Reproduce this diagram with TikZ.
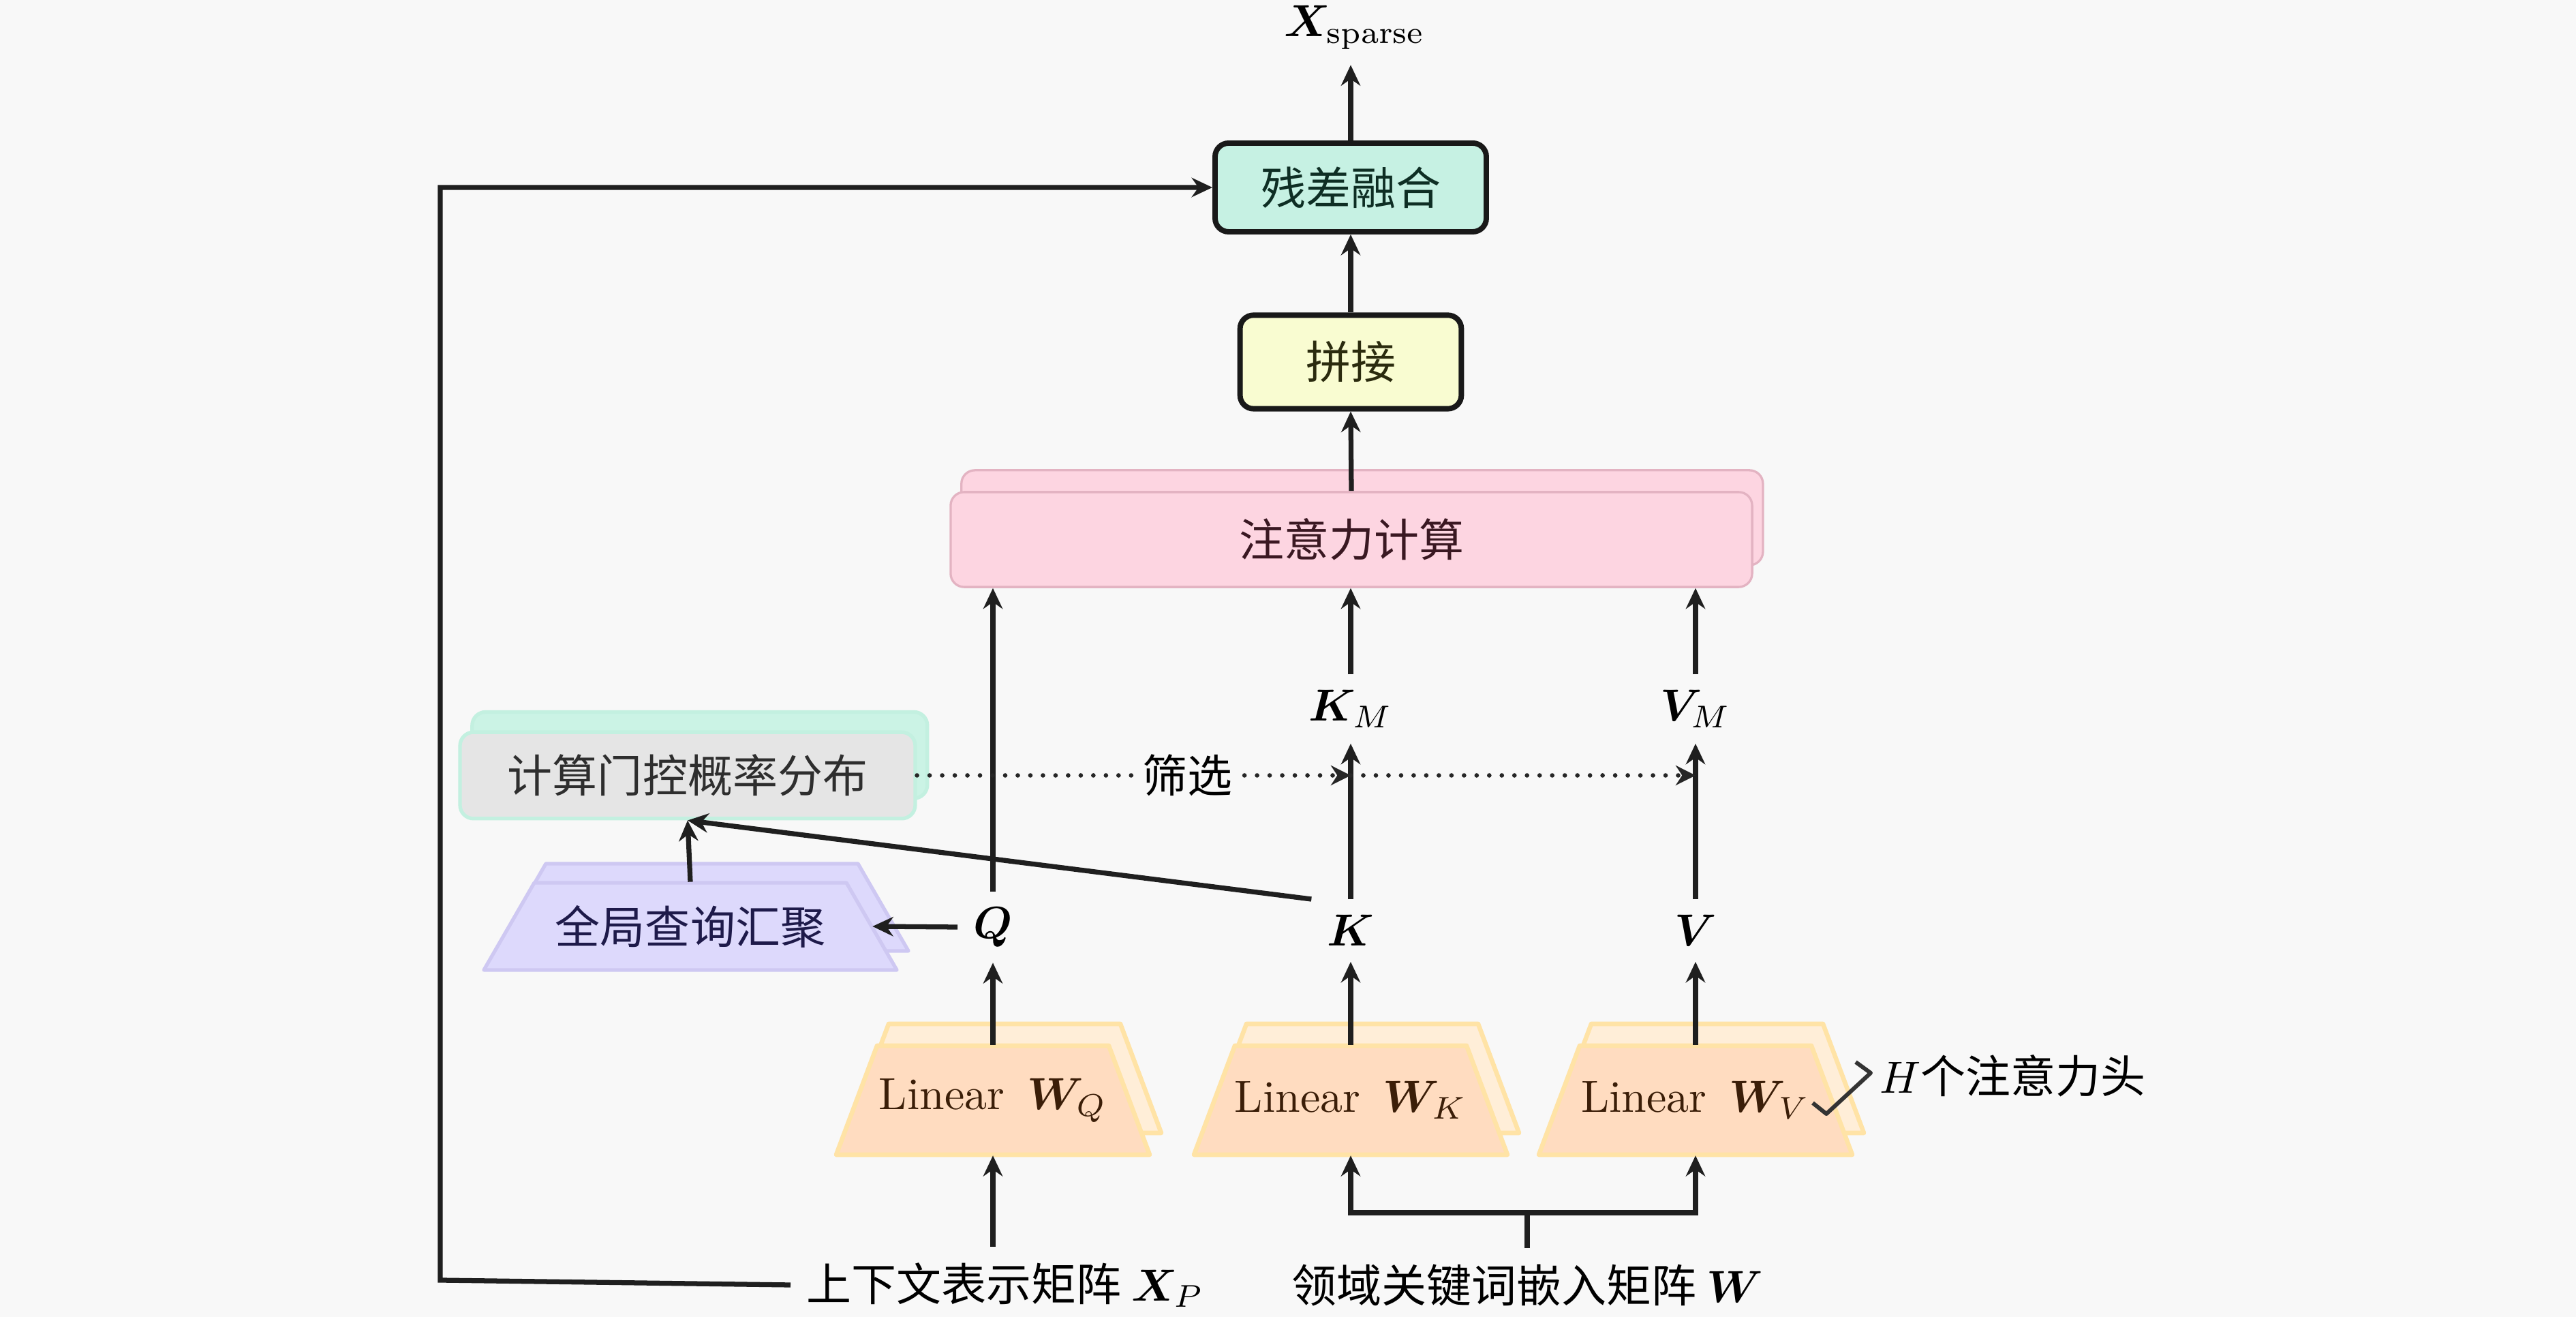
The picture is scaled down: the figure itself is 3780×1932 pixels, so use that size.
\documentclass[tikz,border=0pt]{standalone}
\usepackage{amsmath}
\usepackage{bm}
\usepackage{fontspec}
\IfFontExistsTF{FandolSong-Regular.otf}{\newfontfamily\cjk{FandolSong-Regular.otf}}{\newfontfamily\cjk{Noto Sans CJK SC}}
\usetikzlibrary{shapes.geometric,shadows,arrows.meta,calc}
\definecolor{bgc}{HTML}{F8F8F8}
\definecolor{resfill}{HTML}{C6F1E3}
\definecolor{restext}{HTML}{0E2E24}
\definecolor{catfill}{HTML}{F9FCD1}
\definecolor{cattext}{HTML}{2B2B0E}
\definecolor{attfill}{HTML}{FDD5E1}
\definecolor{attdraw}{HTML}{E3B3C2}
\definecolor{atttext}{HTML}{3A1822}
\definecolor{gatefill}{HTML}{E5E5E5}
\definecolor{gatedraw}{HTML}{C3F0E0}
\definecolor{gatecopy}{HTML}{CBF3E5}
\definecolor{gatetext}{HTML}{2E2E2E}
\definecolor{lavfill}{HTML}{DDD9FC}
\definecolor{lavdraw}{HTML}{CEC8F2}
\definecolor{lavtext}{HTML}{1E1A4A}
\definecolor{linfill}{HTML}{FFDCC0}
\definecolor{lindraw}{HTML}{FFE3A6}
\definecolor{lincopy}{HTML}{FFEED8}
\definecolor{lintext}{HTML}{3B1E08}
\newcommand{\mytrap}[6]{\path[#6] ({#1-#3/2},{#2+#4/2}) -- ({#1+#3/2},{#2+#4/2}) -- ({#1+#3/2-#5},{#2-#4/2}) -- ({#1-#3/2+#5},{#2-#4/2}) -- cycle;}
\begin{document}
\begin{tikzpicture}[x=0.1515pt,y=-0.1515pt,
  arr/.style={-{Stealth[length=4.6pt,width=4.3pt]}, line width=1.1pt, draw=black!88},
  plainline/.style={line width=1.1pt, draw=black!88},
  rbox/.style={rectangle, rounded corners=3pt, align=center, inner sep=0pt},
  trapfront/.style={fill=linfill, draw=lindraw, line width=1.0pt, line join=round},
  trapcopy/.style={fill=lincopy, draw=lindraw, line width=1.0pt, line join=round},
  lavtrap/.style={fill=lavfill, draw=lavdraw, line width=0.8pt, line join=round},
  trapnode/.style={rectangle, inner sep=0pt},
  dotarr/.style={line width=1.0pt, line cap=round, dash pattern=on 0pt off 2.8pt, draw=black!85, -{Stealth[length=4.4pt,width=4.4pt]}}]
\fill[bgc] (0,0) rectangle (3780,1932);
\useasboundingbox (0,0) rectangle (3780,1932);

% boxes
\node[rbox, draw=black!90, line width=1.2pt, fill=resfill, minimum width=60.3pt, minimum height=19.7pt, text=restext] (res) at (1982,275) {\cjk 残差融合};
\node[rbox, draw=black!90, line width=1.2pt, fill=catfill, minimum width=49.2pt, minimum height=20.8pt, text=cattext] (cat) at (1982,531) {\cjk 拼接};
\node[rbox, draw=attdraw, line width=0.5pt, fill=attfill, minimum width=178.2pt, minimum height=21.1pt, text=atttext,
  copy shadow={shadow xshift=2.4pt, shadow yshift=4.85pt, fill=attfill, draw=attdraw}] (att) at (1983,791.5) {\cjk 注意力计算};
\node[rbox, draw=gatedraw, line width=0.8pt, fill=gatefill, minimum width=101.2pt, minimum height=19.2pt, text=gatetext,
  copy shadow={shadow xshift=2.7pt, shadow yshift=4.5pt, fill=gatecopy, draw=gatedraw}] (gate) at (1009,1137.5) {\cjk 计算门控概率分布};

% global query trapezoid
\mytrap{1030}{1331}{606}{128}{74}{lavtrap}
\mytrap{1013}{1359}{606}{128}{74}{lavtrap}
\node[trapnode, minimum width=80.6pt, minimum height=19.4pt, text=lavtext] (glob) at (1013,1359) {\cjk 全局查询汇聚};

% linear trapezoids
\mytrap{1474}{1582}{460}{160}{60}{trapcopy}
\mytrap{1457}{1614}{460}{160}{60}{trapfront}
\node[trapnode, minimum width=60.6pt, minimum height=24.2pt, text=lintext] (WQ) at (1457,1614) {Linear\enspace$\bm{W}_Q$};
\mytrap{1999}{1582}{460}{160}{60}{trapcopy}
\mytrap{1982}{1614}{460}{160}{60}{trapfront}
\node[trapnode, minimum width=60.6pt, minimum height=24.2pt, text=lintext] (WK) at (1982,1614) {Linear\enspace$\bm{W}_K$};
\mytrap{2505}{1582}{460}{160}{60}{trapcopy}
\mytrap{2488}{1614}{460}{160}{60}{trapfront}
\node[trapnode, minimum width=60.6pt, minimum height=24.2pt, text=lintext] (WV) at (2488,1614) {Linear\enspace$\bm{W}_V$};

% labels
\node (Q) at (1457,1360) {$\bm{Q}$};
\node (K) at (1982,1365) {$\bm{K}$};
\node (V) at (2488,1365) {$\bm{V}$};
\node (KM) at (1982,1040) {$\bm{K}_M$};
\node (VM) at (2488,1040) {$\bm{V}_M$};
\node (xs) at (1988,40) {$\bm{X}_{\mathrm{sparse}}$};
\node[anchor=west] (XP) at (1160,1885) {\cjk 上下文表示矩阵 $\bm{X}_P$};
\node (Wemb) at (2241,1885) {\cjk 领域关键词嵌入矩阵 $\bm{W}$};
\node[anchor=west] (heads) at (2735,1578) {$H$\cjk 个注意力头};

% connectors
\draw[arr] (res.north) -- (res.north |- xs.south);
\draw[arr] (cat.north) -- (res.south);
\draw[arr] (att.north) -- (cat.south);
\draw[arr] (WQ |- Q.north) -- (WQ |- att.south);
\draw[arr] (KM.north) -- (KM.north |- att.south);
\draw[arr] (VM.north) -- (VM.north |- att.south);
\draw[arr] (K.north) -- (KM.south);
\draw[arr] (V.north) -- (VM.south);
\draw[arr] (WQ.north) -- (WQ |- Q.south);
\draw[arr] (WK.north) -- (K.south);
\draw[arr] (WV.north) -- (V.south);
\draw[arr] (Q.west) -- (glob.east);
\draw[arr] (glob.north) -- (gate.south);
\draw[arr] (K.north west) -- (gate.south);

\draw[dotarr] (gate.east) -- (gate.east -| KM);
\draw[dotarr] (gate.east -| KM) -- (gate.east -| VM);
\node[fill=bgc, inner sep=1.5pt] (filt) at (1742,1137) {\cjk 筛选};

\draw[arr] (WQ |- XP.north) -- (WQ.south);
\coordinate (wsplit) at ($(Wemb.north)+(0,-52)$);
\draw[plainline] (Wemb.north) -- (wsplit);
\draw[arr] (wsplit) -| (WK.south);
\draw[arr] (wsplit) -| (WV.south);

\coordinate (fb) at (646,1878);
\draw[arr] (XP.west) -- (fb) |- (res.west);

\coordinate (hm) at (2660,1618);
\draw[line width=0.9pt, draw=black!80, line join=round] (hm) -- ++(20,16) -- ++(65,-60) -- ++(-22,-16);
\end{tikzpicture}
\end{document}
